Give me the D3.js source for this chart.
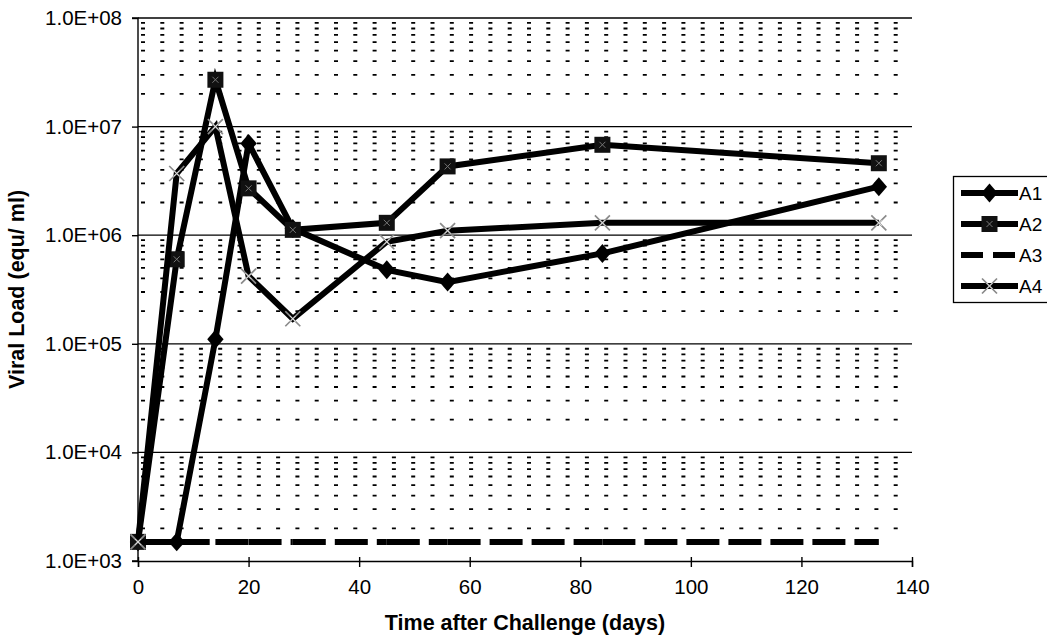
<!DOCTYPE html>
<html><head><meta charset="utf-8">
<script src="https://cdn.jsdelivr.net/npm/d3@7"></script>
<style>
html,body{margin:0;padding:0;background:#fff;}
svg{display:block;font-family:"Liberation Sans",Arial,sans-serif;}
</style></head>
<body>
<svg id="chart" width="1047" height="644"></svg>
<script>
// ---- data ----
const days = [0, 7, 14, 20, 28, 45, 56, 84, 134];
const seriesNames = ["A1", "A2", "A3", "A4"];
const A1 = [1.5e3, 1.5e3, 1.1e5, 7.0e6, 1.15e6, 4.8e5, 3.7e5, 6.8e5, 2.8e6];
const A2 = [1.5e3, 6.0e5, 2.7e7, 2.7e6, 1.12e6, 1.3e6, 4.3e6, 6.8e6, 4.6e6];
const A3 = [1.5e3, 1.5e3, 1.5e3, 1.5e3, 1.5e3, 1.5e3, 1.5e3, 1.5e3, 1.5e3];
const A4 = [1.5e3, 3.7e6, 1.0e7, 4.2e5, 1.7e5, 8.7e5, 1.1e6, 1.3e6, 1.3e6];
const xTicks = [0, 20, 40, 60, 80, 100, 120, 140];
const yTicks = [1e3, 1e4, 1e5, 1e6, 1e7, 1e8];
const yTickLabels = ["1.0E+03", "1.0E+04", "1.0E+05", "1.0E+06", "1.0E+07", "1.0E+08"];
const xTitle = "Time after Challenge (days)";
const yTitle = "Viral Load (equ/ ml)";

// ---- layout ----
const L = 138, R = 912, T = 18, B = 561;
const svg = d3.select("#chart");
const x = d3.scaleLinear().domain([0, 140]).range([L, R]);
const y = d3.scaleLog().domain([1e3, 1e8]).range([B, T]);

// minor grid
const minor = [];
for (let e = 3; e < 8; e++) for (let k = 2; k <= 9; k++) minor.push(k * Math.pow(10, e));
svg.append("g").selectAll("line").data(minor).join("line")
  .attr("x1", L + 2).attr("x2", R).attr("y1", d => y(d)).attr("y2", d => y(d))
  .attr("stroke", "#000").attr("stroke-width", 1.8)
  .attr("stroke-dasharray", "4,15.3").attr("stroke-dashoffset", -1);
// major grid
svg.append("g").selectAll("line").data(yTicks.slice(1)).join("line")
  .attr("x1", L).attr("x2", R).attr("y1", d => y(d)).attr("y2", d => y(d))
  .attr("stroke", "#000").attr("stroke-width", 1.3);

// axes
const yAxis = d3.axisLeft(y).tickValues(yTicks).tickSize(6).tickPadding(10)
  .tickFormat((d, i) => yTickLabels[i]);
const gy = svg.append("g").attr("transform", `translate(${L},0)`).call(yAxis);
const xAxis = d3.axisBottom(x).tickValues(xTicks).tickSize(6).tickPadding(12);
const gx = svg.append("g").attr("transform", `translate(0,${B})`).call(xAxis);
[gx, gy].forEach(g => {
  g.select(".domain").attr("stroke", "#000").attr("stroke-width", 1.4);
  g.selectAll(".tick line").attr("stroke", "#000").attr("stroke-width", 1.4);
  g.selectAll("text").attr("fill", "#000").style("font-size", "20.5px")
    .style("font-family", '"Liberation Sans",Arial,sans-serif');
});
gx.selectAll(".tick line").attr("y1", -4);
gy.selectAll("text").attr("x", -16);
gy.select(".domain").attr("d", `M-6,${T}H0V${B}H-6`);

// titles
svg.append("text").attr("x", (L + R) / 2).attr("y", 630).attr("text-anchor", "middle")
  .style("font-size", "21.5px").style("font-weight", "bold").text(xTitle);
svg.append("text").attr("transform", `translate(24,${(T + B) / 2}) rotate(-90)`)
  .attr("text-anchor", "middle").style("font-size", "21.5px").style("font-weight", "bold").text(yTitle);

// series
const allSeries = [A1, A2, A3, A4];
const line = d3.line().x(d => x(d[0])).y(d => y(d[1]));
const styles = [
  {dash: null, marker: "diamond"},
  {dash: null, marker: "square"},
  {dash: "33,9", marker: null},
  {dash: null, marker: "x"}
];
function drawMarker(g, kind, cx, cy) {
  if (kind === "diamond") {
    g.append("path").attr("d", d3.symbol(d3.symbolDiamond2, 190)())
      .attr("transform", `translate(${cx},${cy}) scale(0.95,1.1)`).attr("fill", "#000");
  } else if (kind === "square") {
    g.append("rect").attr("x", cx - 8).attr("y", cy - 8).attr("width", 16).attr("height", 16).attr("fill", "#111");
    g.append("path").attr("d", `M${cx-3},${cy-3}L${cx+3},${cy+3}M${cx+3},${cy-3}L${cx-3},${cy+3}`)
      .attr("stroke", "#777").attr("stroke-width", 1);
  } else if (kind === "x") {
    g.append("path").attr("d", `M${cx-7.5},${cy-7.5}L${cx+7.5},${cy+7.5}M${cx+7.5},${cy-7.5}L${cx-7.5},${cy+7.5}`)
      .attr("stroke", "#8a8a8a").attr("stroke-width", 1.7);
    g.append("path").attr("d", `M${cx-3},${cy-3}L${cx+3},${cy+3}M${cx+3},${cy-3}L${cx-3},${cy+3}`)
      .attr("stroke", "#e0e0e0").attr("stroke-width", 1);
  }
}
allSeries.forEach((vals, si) => {
  const pts = days.map((d, i) => [d, vals[i]]);
  const g = svg.append("g");
  if (styles[si].dash) {
    // Excel restarts the dash pattern on every segment
    for (let i = 0; i < pts.length - 1; i++) {
      g.append("path").attr("d", line([pts[i], pts[i + 1]])).attr("fill", "none")
        .attr("stroke", "#000").attr("stroke-width", 6).attr("stroke-dasharray", styles[si].dash);
    }
  } else {
    g.append("path").attr("d", line(pts)).attr("fill", "none").attr("stroke", "#000")
      .attr("stroke-width", 6).attr("stroke-linejoin", "miter");
  }
  if (styles[si].marker) pts.forEach(p => drawMarker(g, styles[si].marker, x(p[0]), y(p[1])));
});

// legend
const lg = svg.append("g");
lg.append("rect").attr("x", 953.5).attr("y", 176.5).attr("width", 110).attr("height", 126)
  .attr("fill", "#fff").attr("stroke", "#000").attr("stroke-width", 1.3);
seriesNames.forEach((name, i) => {
  const ly = 193 + i * 31;
  const sg = lg.append("g");
  sg.append("line").attr("x1", 961).attr("x2", 1018).attr("y1", ly).attr("y2", ly)
    .attr("stroke", "#000").attr("stroke-width", 6)
    .attr("stroke-dasharray", styles[i].dash ? "22,10" : null);
  if (styles[i].marker) drawMarker(sg, styles[i].marker, 989.5, ly);
  sg.append("text").attr("x", 1019).attr("y", ly).attr("dy", "0.36em")
    .style("font-size", "19px").text(name);
});
</script>
</body></html>
